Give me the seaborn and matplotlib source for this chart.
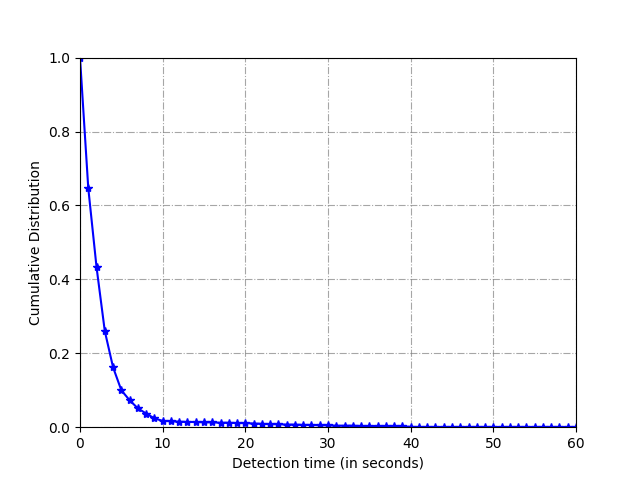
import numpy as np
import pandas as pd
import matplotlib
matplotlib.use('Agg')
import matplotlib.pyplot as plt
import seaborn as sns

# detection time in seconds and cumulative distribution
detect_time = list(range(0, 61))
cum_dist = [1.0, 0.647, 0.433, 0.260, 0.162, 0.100, 0.073, 0.051, 0.037, 0.024,
            0.017, 0.016, 0.015, 0.014, 0.014, 0.013, 0.013, 0.012, 0.012, 0.011,
            0.011, 0.010, 0.009, 0.008, 0.008, 0.007, 0.007, 0.006, 0.006, 0.005,
            0.005, 0.004, 0.004, 0.004, 0.003, 0.003, 0.003, 0.002, 0.002, 0.002,
            0.001, 0.0, 0.0, 0.0, 0.0, 0.0, 0.0, 0.0, 0.0, 0.0,
            0.0, 0.0, 0.0, 0.0, 0.0, 0.0, 0.0, 0.0, 0.0, 0.0, 0.0]

df = pd.DataFrame({'time': detect_time, 'cdf': cum_dist})

fig, ax = plt.subplots(figsize=(6.4, 4.8), dpi=100)
sns.lineplot(data=df, x='time', y='cdf', ax=ax, color='blue', marker='*',
             markersize=6, markeredgecolor='blue', markeredgewidth=1.0,
             linewidth=1.5)
ax.set_xlim(0, 60)
ax.set_ylim(0, 1)
ax.grid(True, linestyle='-.', color='gray', alpha=0.7, linewidth=0.8)
ax.set_xlabel('Detection time (in seconds)')
ax.set_ylabel('Cumulative Distribution')
fig.savefig('out.png', dpi=100)
